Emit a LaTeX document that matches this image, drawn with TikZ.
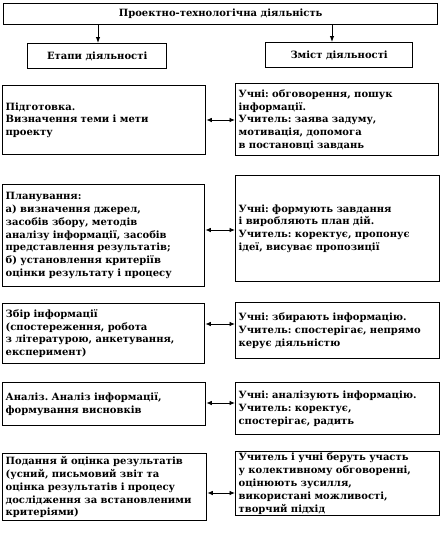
\documentclass[tikz,border=0pt]{standalone}
\usepackage{fontspec}
\setmainfont{DejaVu Serif}
\usetikzlibrary{arrows.meta}
\begin{document}
\frenchspacing
\begin{tikzpicture}[x=1pt,y=-1pt,
  txt/.style={font=\frenchspacing\bfseries\fontsize{10}{12.8}\selectfont},
  box/.style={txt,draw,line width=1.3pt,rectangle,anchor=north west,inner xsep=3pt,inner ysep=0pt,align=left},
  hbox/.style={txt,draw,line width=1.3pt,rectangle,anchor=north west,inner sep=0pt,align=center},
  darr/.style={{Latex[length=5.5pt,width=4.5pt]}-{Latex[length=5.5pt,width=4.5pt]},line width=0.9pt},
  varr/.style={-{Latex[length=6pt,width=4.5pt]},line width=1pt}]
\useasboundingbox[fill=white] (0,0) rectangle (443,533);
% header
\node[hbox,minimum width=434pt,minimum height=21pt] (T) at (3,3) {Проектно-технологічна діяльність};
\node[hbox,minimum width=139pt,minimum height=25pt] (E) at (27,43) {Етапи діяльності};
\node[hbox,minimum width=147pt,minimum height=25pt] (Z) at (265,42) {Зміст діяльності};
\coordinate (ea) at (98,43);
\coordinate (za) at (332,42);
\draw[varr] (T.south -| ea) -- (E.north -| ea);
\draw[varr] (T.south -| za) -- (Z.north -| za);
% row 1
\node[box,minimum width=203pt,minimum height=69pt,text width=197pt] (L1) at (2,85) {Підготовка.\\Визначення теми і мети\\проекту};
\node[box,minimum width=203pt,minimum height=72pt,text width=197pt] (R1) at (235,83) {Учні: обговорення, пошук\\інформації.\\Учитель: заява задуму,\\мотивація, допомога\\в постановці завдань};
\coordinate (a1) at (220,120);
\draw[darr] (L1.east |- a1) -- (R1.west |- a1);
% row 2
\node[box,minimum width=202pt,minimum height=102pt,text width=196pt] (L2) at (2,184) {Планування:\\а) визначення джерел,\\засобів збору, методів\\аналізу інформації, засобів\\представлення результатів;\\б) установлення критеріїв\\оцінки результату і процесу};
\node[box,minimum width=204pt,minimum height=106pt,text width=198pt] (R2) at (235,175) {Учні: формують завдання\\і виробляють план дій.\\Учитель: коректує, пропонує\\ідеї, висуває пропозиції};
\coordinate (a2) at (220,230);
\draw[darr] (L2.east |- a2) -- (R2.west |- a2);
% row 3
\node[box,minimum width=202pt,minimum height=60pt,text width=196pt] (L3) at (2,303) {Збір інформації\\(спостереження, робота\\з літературою, анкетування,\\експеримент)};
\node[box,minimum width=204pt,minimum height=56pt,text width=198pt] (R3) at (235,302) {Учні: збирають інформацію.\\Учитель: спостерігає, непрямо\\керує діяльністю};
\coordinate (a3) at (220,324);
\draw[darr] (L3.east |- a3) -- (R3.west |- a3);
% row 4
\node[box,minimum width=203pt,minimum height=43pt,text width=197pt] (L4) at (2,382) {Аналіз. Аналіз інформації,\\формування висновків};
\node[box,minimum width=204pt,minimum height=52pt,text width=198pt] (R4) at (235,382) {Учні: аналізують інформацію.\\Учитель: коректує,\\спостерігає, радить};
\coordinate (a4) at (220,403);
\draw[darr] (L4.east |- a4) -- (R4.west |- a4);
% row 5
\node[box,minimum width=204pt,minimum height=67pt,text width=198pt] (L5) at (2,453) {Подання й оцінка результатів\\(усний, письмовий звіт та\\оцінка результатів і процесу\\дослідження за встановленими\\критеріями)};
\node[box,minimum width=204pt,minimum height=64pt,text width=198pt] (R5) at (235,451) {Учитель і учні беруть участь\\у колективному обговоренні,\\оцінюють зусилля,\\використані можливості,\\творчий підхід};
\coordinate (a5) at (220,493);
\draw[darr] (L5.east |- a5) -- (R5.west |- a5);
\end{tikzpicture}
\end{document}
